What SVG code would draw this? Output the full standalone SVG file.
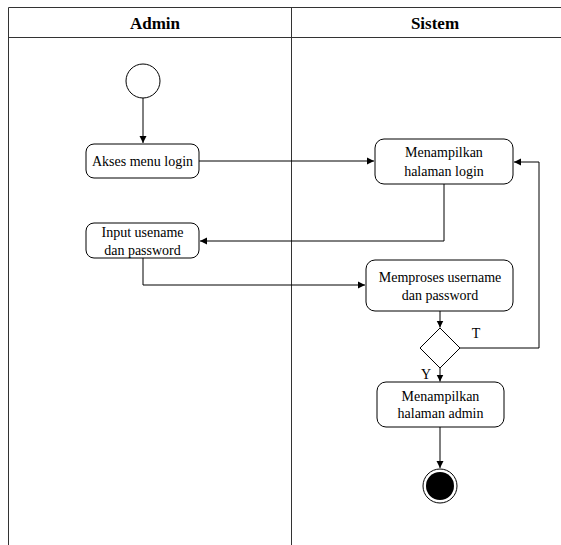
<svg xmlns="http://www.w3.org/2000/svg" width="561" height="545" viewBox="0 0 561 545">
<style>
.lane{fill:none;stroke:#333;stroke-width:1}
.node{fill:#fff;stroke:#000;stroke-width:1}
.edge{fill:none;stroke:#000;stroke-width:1}
.t{font-family:"Liberation Serif","Times New Roman",serif;font-size:14px;fill:#000;text-anchor:middle}
.h{font-family:"Liberation Serif","Times New Roman",serif;font-size:17px;font-weight:bold;fill:#000;text-anchor:middle}
</style>
<defs>
<marker id="arr" markerWidth="8" markerHeight="8" refX="7" refY="4" orient="auto" markerUnits="userSpaceOnUse">
<path d="M0,0.5 L7,4 L0,7.5 Z" fill="#000"/>
</marker>
</defs>
<rect width="561" height="545" fill="#fff"/>
<g id="lanes">
<path class="lane" d="M8.5,545 V7.5 H561 M8.5,37.5 H561 M291.5,7.5 V545"/>
<text class="h" x="155" y="29">Admin</text>
<text class="h" x="435" y="29">Sistem</text>
</g>
<g id="connectors">
<path class="edge" d="M143,98 V143" marker-end="url(#arr)"/>
<path class="edge" d="M199,161 H374" marker-end="url(#arr)"/>
<path class="edge" d="M444,184 V241 H200" marker-end="url(#arr)"/>
<path class="edge" d="M143,258 V285 H365" marker-end="url(#arr)"/>
<path class="edge" d="M440,311 V327.5" marker-end="url(#arr)"/>
<path class="edge" d="M460,348 H539 V162 H514" marker-end="url(#arr)"/>
<path class="edge" d="M440,368 V381.5" marker-end="url(#arr)"/>
<path class="edge" d="M440,427 V468" marker-end="url(#arr)"/>
<text class="t" x="476" y="338">T</text>
<text class="t" x="426" y="379">Y</text>
</g>
<g id="start">
<circle class="node" cx="143" cy="81" r="17"/>
</g>
<g id="akses">
<rect class="node" x="86" y="144" width="113" height="34" rx="8"/>
<text class="t" x="142.5" y="165.5">Akses menu login</text>
</g>
<g id="input">
<rect class="node" x="86" y="223" width="113" height="35" rx="8"/>
<text class="t" x="142.5" y="237">Input usename</text>
<text class="t" x="142.5" y="255">dan password</text>
</g>
<g id="tampil-login">
<rect class="node" x="375" y="139" width="138" height="45" rx="9"/>
<text class="t" x="444" y="157">Menampilkan</text>
<text class="t" x="444" y="176">halaman login</text>
</g>
<g id="proses">
<rect class="node" x="366" y="260" width="147" height="51" rx="9"/>
<text class="t" x="440" y="282">Memproses username</text>
<text class="t" x="440" y="300">dan password</text>
</g>
<g id="decision">
<path class="node" d="M440,328 L460,348 L440,368 L420,348 Z"/>
</g>
<g id="tampil-admin">
<rect class="node" x="377" y="382" width="127" height="45" rx="9"/>
<text class="t" x="440.5" y="401">Menampilkan</text>
<text class="t" x="440.5" y="418">halaman admin</text>
</g>
<g id="end">
<circle class="node" cx="440" cy="486" r="17"/>
<circle cx="440" cy="486" r="14" fill="#000"/>
</g>
</svg>
